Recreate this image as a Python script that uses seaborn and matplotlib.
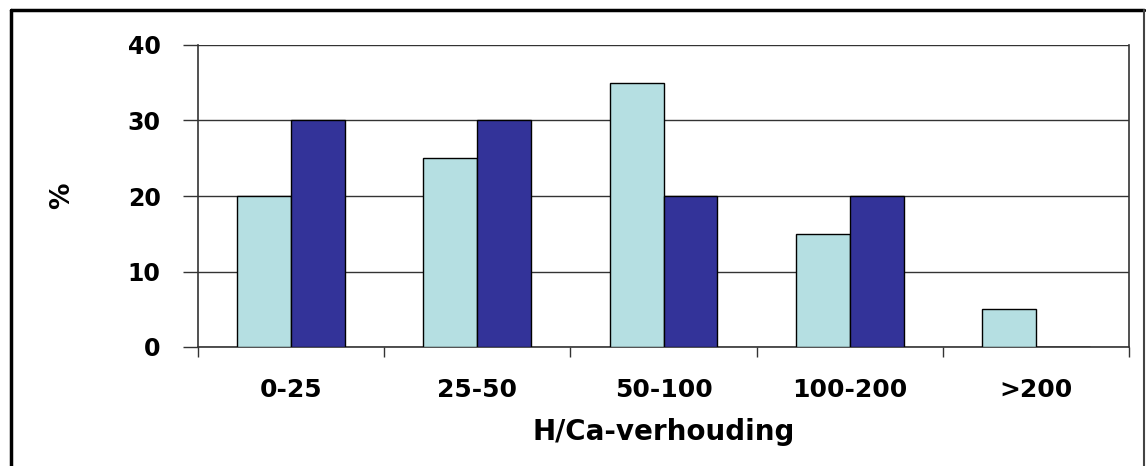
import matplotlib
matplotlib.use("Agg")
import matplotlib.pyplot as plt
import seaborn as sns
import pandas as pd
import numpy as np
from matplotlib.lines import Line2D

categories = ["0-25", "25-50", "50-100", "100-200", ">200"]
series_names = ["Serie 1", "Serie 2"]
light_values = [20, 25, 35, 15, 5]
dark_values = [30, 30, 20, 20, 0]
yticks = [0, 10, 20, 30, 40]

df = pd.DataFrame({
    "cat": categories * 2,
    "serie": [series_names[0]] * len(categories) + [series_names[1]] * len(categories),
    "val": light_values + dark_values,
})

sns.set_style("white")
plt.rcParams["font.family"] = ["DejaVu Sans"]
plt.rcParams["font.weight"] = "bold"
plt.rcParams["text.color"] = "black"
plt.rcParams["xtick.color"] = "black"
plt.rcParams["ytick.color"] = "black"
plt.rcParams["axes.labelcolor"] = "black"

W, H = 1146, 466
fig = plt.figure(figsize=(W / 100, H / 100), dpi=100)
ax = fig.add_axes([198 / W, 1 - 347 / H, (1129 - 198) / W, (347 - 45) / H])

sns.barplot(data=df, x="cat", y="val", hue="serie", order=categories,
            hue_order=series_names, palette=["#b5dfe2", "#333399"],
            edgecolor="black", linewidth=1.0, width=0.58, ax=ax, legend=False,
            saturation=1, zorder=3)

ax.set_ylim(0, 40)
ax.set_xlim(-0.5, len(categories) - 0.5)
ax.set_yticks(yticks)
ax.set_yticklabels([str(t) for t in yticks], fontsize=17, fontweight="bold", color="black")
ax.yaxis.grid(True, color="#333333", linewidth=1.0, zorder=0)
ax.set_axisbelow(True)
ax.tick_params(axis="y", direction="out", length=11, width=1, color="#333333", pad=16, left=True)

ax.set_xticks(range(len(categories)))
ax.set_xticklabels(categories, fontsize=18, fontweight="bold", color="black")
ax.tick_params(axis="x", which="major", length=0, pad=22)
ax.set_xticks(np.arange(-0.5, len(categories), 1.0), minor=True)
ax.tick_params(axis="x", which="minor", direction="out", length=7, width=1, color="#333333", bottom=True)

for s in ["left", "bottom", "right"]:
    ax.spines[s].set_visible(True)
    ax.spines[s].set_color("#333333")
    ax.spines[s].set_linewidth(1.2)
ax.spines["top"].set_visible(False)

ax.set_xlabel("H/Ca-verhouding", fontsize=20, fontweight="bold", labelpad=12, color="black")
ax.set_ylabel("%", fontsize=19, fontweight="bold", labelpad=38, color="black")

fig.lines.append(Line2D([11 / W, 1144 / W], [1 - 10 / H, 1 - 10 / H],
                        transform=fig.transFigure, color="black", linewidth=2.5))
fig.lines.append(Line2D([11 / W, 11 / W], [0, 1 - 10 / H],
                        transform=fig.transFigure, color="black", linewidth=2.5))
fig.lines.append(Line2D([1144 / W, 1144 / W], [0, 1 - 10 / H],
                        transform=fig.transFigure, color="#444444", linewidth=1.5))

fig.savefig("out.png", dpi=100)
